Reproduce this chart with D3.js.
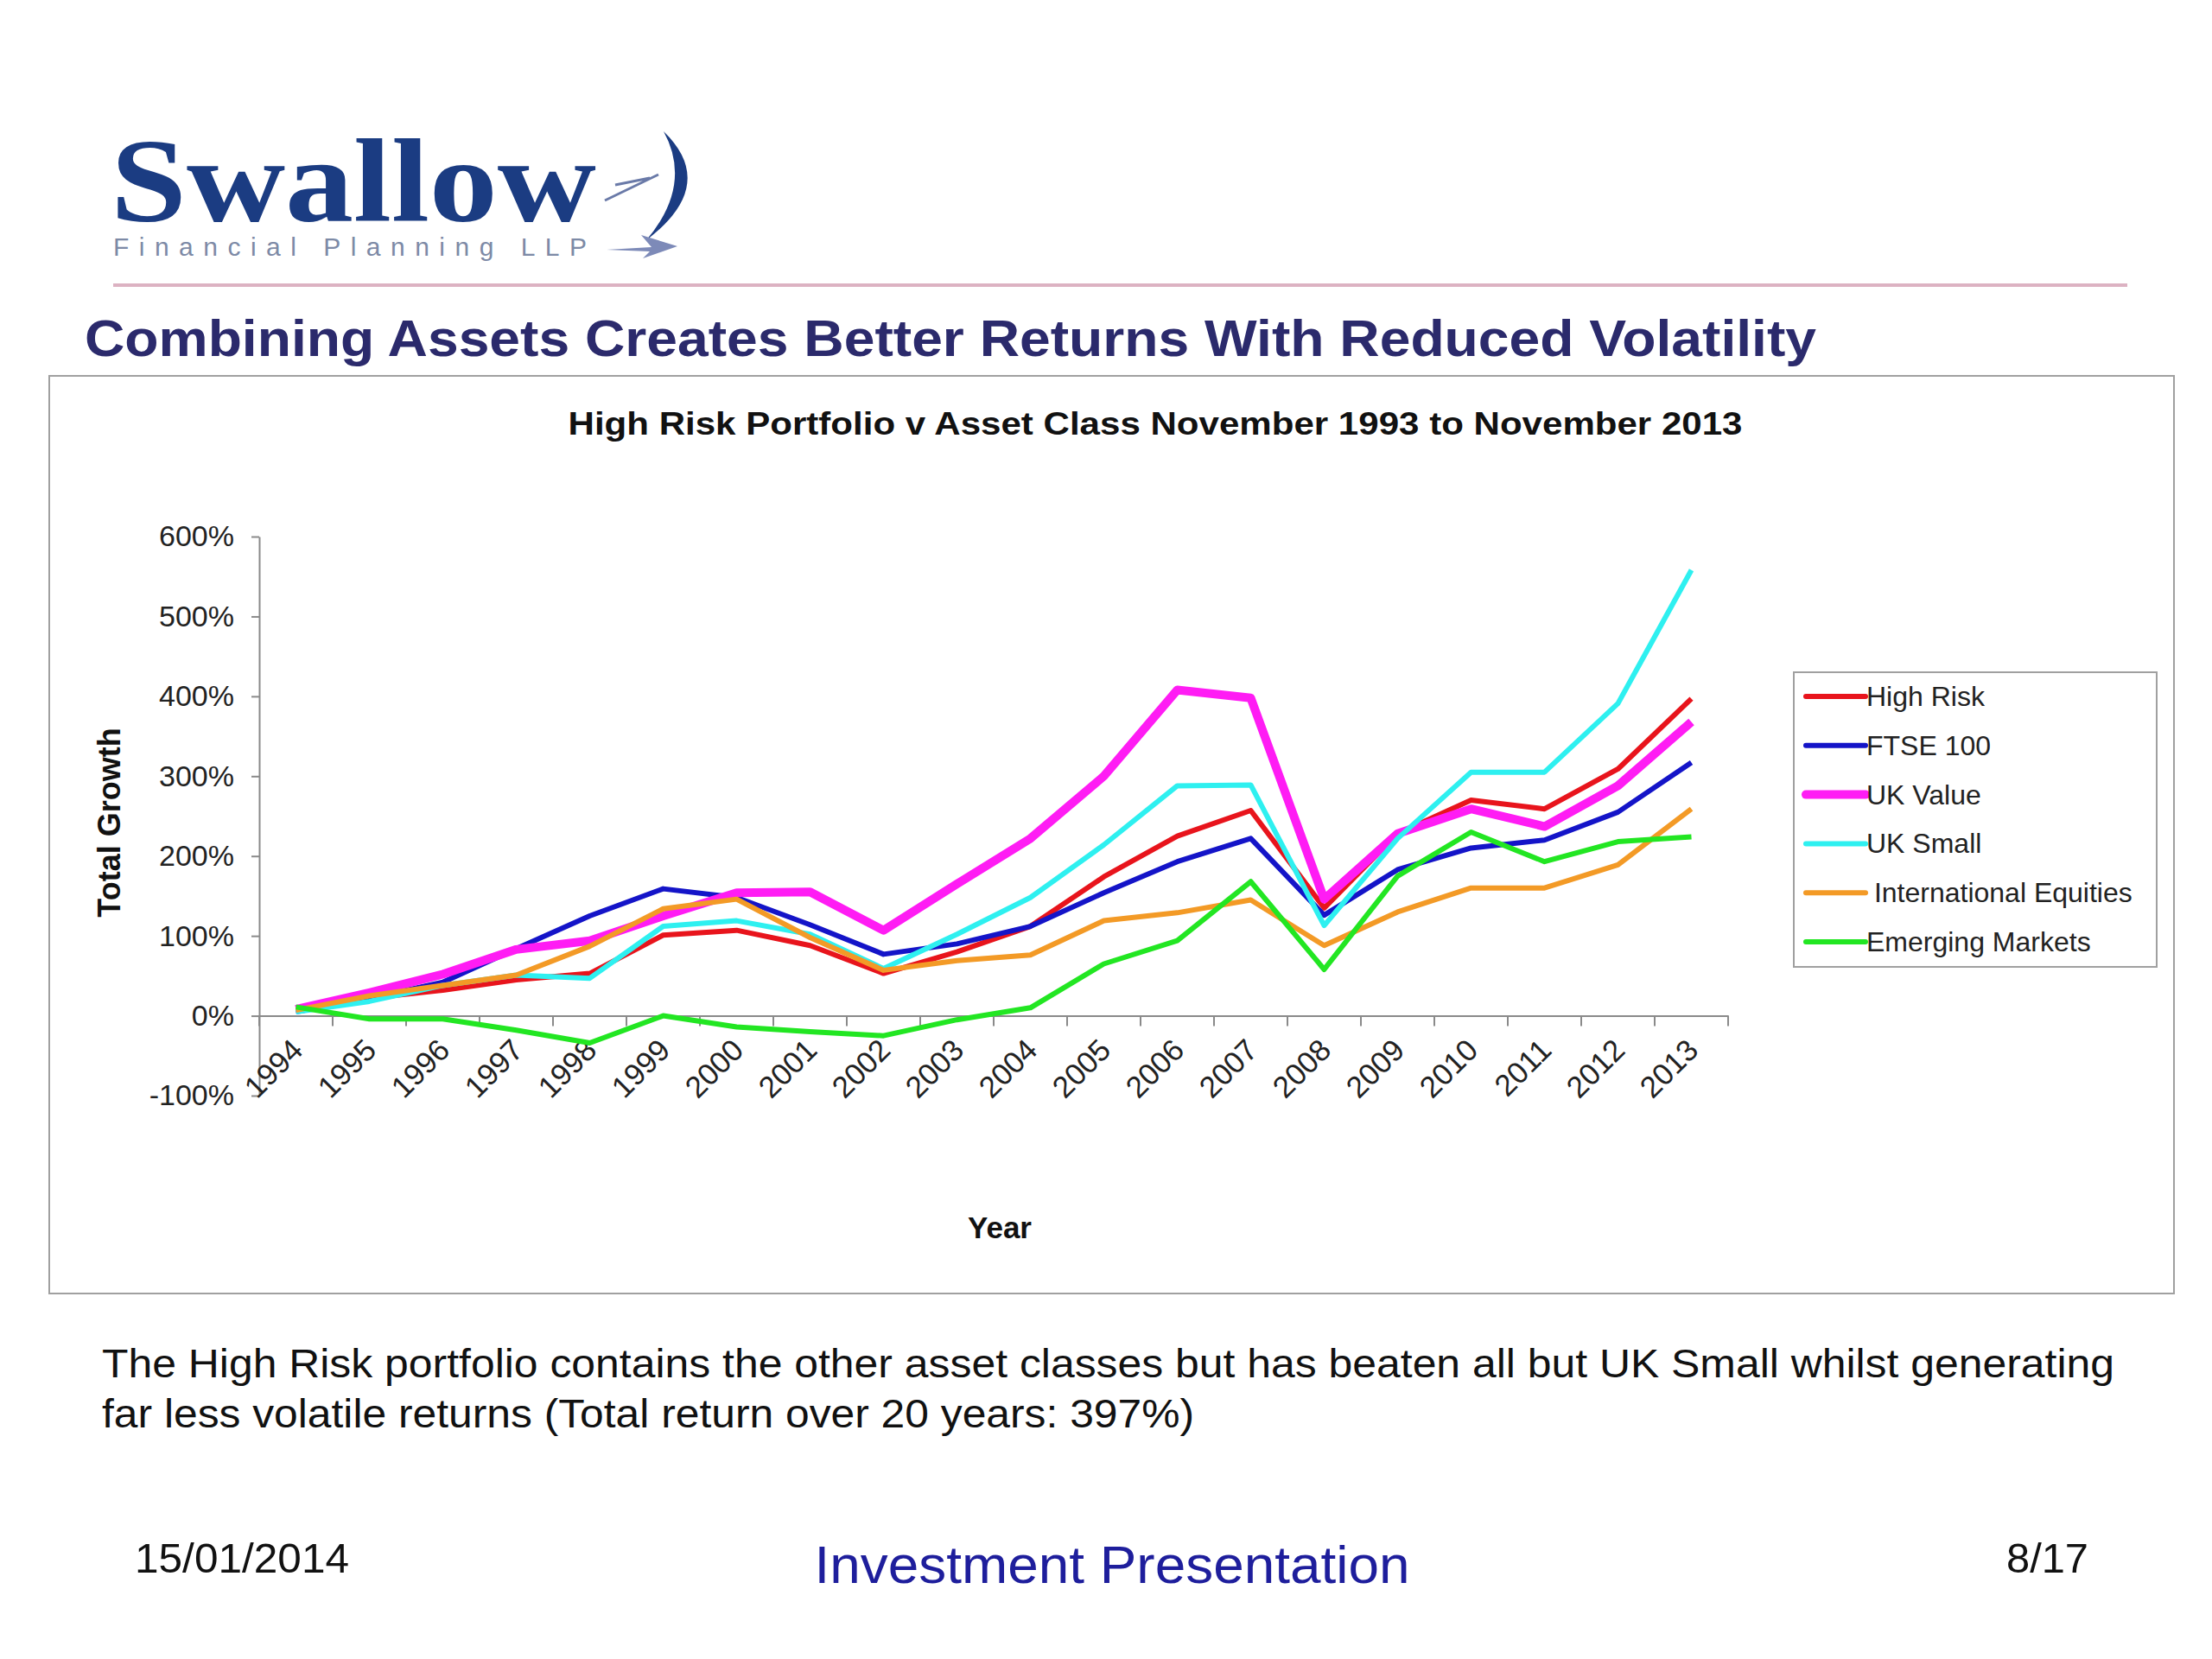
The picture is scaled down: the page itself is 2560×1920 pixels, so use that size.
<!DOCTYPE html>
<html>
<head>
<meta charset="utf-8">
<script src="https://cdn.jsdelivr.net/npm/d3@7"></script>
<style>
  body { margin: 0; background: #fff; }
  svg { display: block; }
</style>
</head>
<body>
<div id="chart"></div>
<script>
// ── Data ────────────────────────────────────────────────────────────────
const years = ["1994","1995","1996","1997","1998","1999","2000","2001","2002","2003",
               "2004","2005","2006","2007","2008","2009","2010","2011","2012","2013"];

const highRisk      = [7, 22, 32, 45, 53, 101, 107, 88, 53, 80, 112, 174, 225, 257, 135, 228, 270, 259, 309, 397];
const ftse100       = [5, 22, 42, 84, 125, 159, 148, 114, 77, 90, 112, 154, 193, 222, 126, 183, 210, 220, 255, 317];
const ukValue       = [8, 29, 52, 83, 94, 125, 154, 155, 107, 165, 222, 300, 408, 398, 146, 228, 259, 237, 288, 368];
const ukSmall       = [5, 18, 38, 51, 47, 112, 119, 102, 59, 102, 148, 214, 288, 289, 113, 222, 305, 305, 391, 558];
const intlEquities  = [7, 25, 38, 51, 87, 134, 146, 98, 57, 69, 76, 119, 129, 145, 88, 130, 160, 160, 189, 259];
const emerging      = [11, -4, -4, -18, -34, 0, -14, -20, -25, -5, 10, 65, 94, 168, 58, 175, 230, 193, 218, 224];

const seriesNames  = ["High Risk", "FTSE 100", "UK Value", "UK Small", " International Equities", "Emerging Markets"];
const seriesValues = [highRisk, ftse100, ukValue, ukSmall, intlEquities, emerging];
const seriesColors = ["#e8141c", "#1414c8", "#ff1cf4", "#2ef0f0", "#f39a26", "#22e622"];
const seriesWidths = [6, 6, 10, 6, 6, 6];

const yTicks = [-100, 0, 100, 200, 300, 400, 500, 600];

// ── Canvas ──────────────────────────────────────────────────────────────
const W = 2560, H = 1920;
const FONT = "'Liberation Sans', Arial, sans-serif";
const NAVY = "#1b3c82";

const svg = d3.select("#chart").append("svg")
  .attr("width", W).attr("height", H)
  .attr("font-family", FONT);

svg.append("rect").attr("width", W).attr("height", H).attr("fill", "#fff");

// ── Logo ────────────────────────────────────────────────────────────────
svg.append("text")
  .attr("x", 128).attr("y", 256)
  .attr("font-family", "'Liberation Serif', 'DejaVu Serif', serif")
  .attr("font-weight", "700")
  .attr("font-size", 138)
  .attr("textLength", 562).attr("lengthAdjust", "spacingAndGlyphs")
  .attr("fill", NAVY)
  .text("Swallow");

svg.append("text")
  .attr("x", 131).attr("y", 296)
  .attr("font-size", 30)
  .attr("textLength", 548).attr("lengthAdjust", "spacing")
  .attr("fill", "#7d8aa6")
  .text("Financial Planning LLP");

// bird mark
const bird = svg.append("g");
bird.append("path")
  .attr("d", "M768,152 Q832,214 748,278 Q802,214 768,152 Z")
  .attr("fill", NAVY);
bird.append("path")
  .attr("d", "M700,232 L762,202 M712,214 L752,206")
  .attr("stroke", "#6a7aa8").attr("stroke-width", 3).attr("fill", "none");
bird.append("path")
  .attr("d", "M702,289 L754,286 L742,272 L784,285 L744,299 L752,291 Z")
  .attr("fill", "#7d8ab8");

// divider
svg.append("line")
  .attr("x1", 131).attr("x2", 2462)
  .attr("y1", 330).attr("y2", 330)
  .attr("stroke", "#dcb2c2").attr("stroke-width", 4);

// slide title
svg.append("text")
  .attr("x", 98).attr("y", 412)
  .attr("font-size", 60).attr("font-weight", "700")
  .attr("textLength", 2004).attr("lengthAdjust", "spacingAndGlyphs")
  .attr("fill", "#2b2a6c")
  .text("Combining Assets Creates Better Returns With Reduced Volatility");

// ── Chart frame ─────────────────────────────────────────────────────────
svg.append("rect")
  .attr("x", 57).attr("y", 435)
  .attr("width", 2459).attr("height", 1062)
  .attr("fill", "none").attr("stroke", "#a0a0a0").attr("stroke-width", 2);

svg.append("text")
  .attr("x", 1337).attr("y", 503)
  .attr("text-anchor", "middle")
  .attr("font-size", 36).attr("font-weight", "700")
  .attr("textLength", 1359).attr("lengthAdjust", "spacingAndGlyphs")
  .attr("fill", "#111")
  .text("High Risk Portfolio v Asset Class November 1993 to November 2013");

// Scales
const x = d3.scaleBand().domain(years).range([300, 2000]);
const y = d3.scaleLinear().domain([-100, 600]).range([1268, 621]);
const cx = d => x(d) + x.bandwidth() / 2;

// Y axis
const yAxis = svg.append("g")
  .attr("transform", "translate(300,0)")
  .call(d3.axisLeft(y).tickValues(yTicks).tickFormat(d => d + "%").tickSize(9).tickPadding(20).tickSizeOuter(0));
yAxis.select(".domain").attr("stroke", "#8a8a8a").attr("stroke-width", 2);
yAxis.selectAll(".tick line").attr("stroke", "#8a8a8a").attr("stroke-width", 2);
yAxis.selectAll(".tick text")
  .attr("font-family", FONT).attr("font-size", 34).attr("fill", "#222");

// X axis at 0%
const xAxis = svg.append("g")
  .attr("transform", `translate(0,${y(0)})`)
  .call(d3.axisBottom(x).tickSize(0).tickSizeOuter(0));
xAxis.select(".domain").attr("stroke", "#8a8a8a").attr("stroke-width", 2);
xAxis.selectAll(".tick text")
  .attr("font-family", FONT).attr("font-size", 35).attr("fill", "#222")
  .attr("text-anchor", "end")
  .attr("x", 0).attr("y", 0).attr("dy", 0)
  .attr("transform", "translate(10,42) rotate(-45)");

// category boundary ticks
const bounds = years.map(d => x(d)).concat([x.range()[1]]);
svg.append("g").selectAll("line")
  .data(bounds)
  .join("line")
    .attr("x1", d => d).attr("x2", d => d)
    .attr("y1", y(0)).attr("y2", y(0) + 12)
    .attr("stroke", "#8a8a8a").attr("stroke-width", 2);

// axis titles
svg.append("text")
  .attr("transform", "translate(139,952) rotate(-90)")
  .attr("text-anchor", "middle")
  .attr("font-size", 36).attr("font-weight", "700").attr("fill", "#111")
  .text("Total Growth");

svg.append("text")
  .attr("x", 1157).attr("y", 1433)
  .attr("text-anchor", "middle")
  .attr("font-size", 35).attr("font-weight", "700").attr("fill", "#111")
  .text("Year");

// Lines
const line = d3.line()
  .x((d, i) => cx(years[i]))
  .y(d => y(d));

svg.append("g").selectAll("path")
  .data(seriesValues)
  .join("path")
    .attr("fill", "none")
    .attr("stroke", (d, i) => seriesColors[i])
    .attr("stroke-width", (d, i) => seriesWidths[i])
    .attr("stroke-linejoin", "round")
    .attr("d", line);

// Legend
const legend = svg.append("g").attr("transform", "translate(2076,778)");
legend.append("rect")
  .attr("width", 420).attr("height", 341)
  .attr("fill", "#fff").attr("stroke", "#a0a0a0").attr("stroke-width", 2);

const items = legend.selectAll(".item")
  .data(seriesNames)
  .join("g")
    .attr("class", "item")
    .attr("transform", (d, i) => `translate(0,${28 + i * 56.8})`);

items.append("line")
  .attr("x1", 14).attr("x2", 83)
  .attr("stroke", (d, i) => seriesColors[i])
  .attr("stroke-width", (d, i) => seriesWidths[i])
  .attr("stroke-linecap", "round");

items.append("text")
  .attr("x", 84).attr("y", 11)
  .attr("font-size", 32).attr("fill", "#222")
  .attr("xml:space", "preserve")
  .style("white-space", "pre")
  .text(d => d);

// ── Commentary and footer ───────────────────────────────────────────────
svg.append("text")
  .attr("x", 118).attr("y", 1594)
  .attr("font-size", 46).attr("fill", "#111")
  .attr("textLength", 2329).attr("lengthAdjust", "spacingAndGlyphs")
  .text("The High Risk portfolio contains the other asset classes but has beaten all but UK Small whilst generating");

svg.append("text")
  .attr("x", 118).attr("y", 1652)
  .attr("font-size", 46).attr("fill", "#111")
  .attr("textLength", 1264).attr("lengthAdjust", "spacingAndGlyphs")
  .text("far less volatile returns (Total return over 20 years: 397%)");

svg.append("text")
  .attr("x", 156).attr("y", 1820)
  .attr("font-size", 48).attr("fill", "#111")
  .attr("textLength", 248).attr("lengthAdjust", "spacingAndGlyphs")
  .text("15/01/2014");

svg.append("text")
  .attr("x", 1287).attr("y", 1832)
  .attr("text-anchor", "middle")
  .attr("font-size", 62).attr("fill", "#1e1e9c")
  .attr("textLength", 689).attr("lengthAdjust", "spacingAndGlyphs")
  .text("Investment Presentation");

svg.append("text")
  .attr("x", 2322).attr("y", 1820)
  .attr("font-size", 48).attr("fill", "#111")
  .attr("textLength", 95).attr("lengthAdjust", "spacingAndGlyphs")
  .text("8/17");
</script>
</body>
</html>
